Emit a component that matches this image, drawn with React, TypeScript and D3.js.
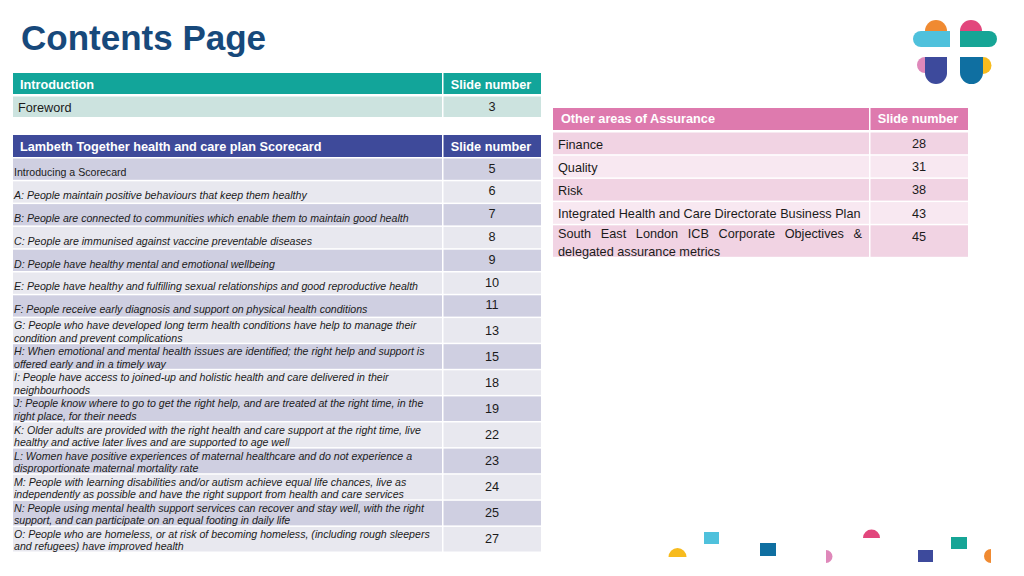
import React from "react";
import * as d3 from "d3";

// ---------- data ----------
const introItems = ["Foreword"];
const introSlides = [3];

const scorecardItems = [
  "Introducing a Scorecard",
  "A: People maintain positive behaviours that keep them healthy",
  "B: People are connected to communities which enable them to maintain good health",
  "C: People are immunised against vaccine preventable diseases",
  "D: People have healthy mental and emotional wellbeing",
  "E: People have healthy and fulfilling sexual relationships and good reproductive health",
  "F: People receive early diagnosis and support on physical health conditions",
  "G: People who have developed long term health conditions have help to manage their\ncondition and prevent complications",
  "H: When emotional and mental health issues are identified; the right help and support is\noffered early and in a timely way",
  "I: People have access to joined-up and holistic health and care delivered in their\nneighbourhoods",
  "J: People know where to go to get the right help, and are treated at the right time, in the\nright place, for their needs",
  "K: Older adults are provided with the right health and care support at the right time, live\nhealthy and active later lives and are supported to age well",
  "L: Women have positive experiences of maternal healthcare and do not experience a\ndisproportionate maternal mortality rate",
  "M: People with learning disabilities and/or autism achieve equal life chances, live as\nindependently as possible and have the right support from health and care services",
  "N: People using mental health support services can recover and stay well, with the right\nsupport, and can participate on an equal footing in daily life",
  "O: People who are homeless, or at risk of becoming homeless, (including rough sleepers\nand refugees) have improved health",
];
const scorecardSlides = [5, 6, 7, 8, 9, 10, 11, 13, 15, 18, 19, 22, 23, 24, 25, 27];

const assuranceItems = [
  "Finance",
  "Quality",
  "Risk",
  "Integrated Health and Care Directorate Business Plan",
  "South East London ICB Corporate Objectives &\ndelegated assurance metrics",
];
const assuranceSlides = [28, 31, 38, 43, 45];

// ---------- style ----------
const FONT = "'Liberation Sans', Arial, sans-serif";
const C = {
  title: "#17497b",
  teal: "#12a59a",
  tealRow: "#cce3df",
  indigo: "#3e4a9a",
  indigoDark: "#cfcfe1",
  indigoLight: "#e8e8ef",
  pink: "#de7aae",
  pinkDark: "#f1d3e3",
  pinkLight: "#f8e8f1",
  text: "#1b1b1b",
};
const FS = 12.7;
const FS_SMALL = 10.6;

function rowLayout(items: string[], top: number, single: number, double: number) {
  const heights = items.map((t) => (t.includes("\n") ? double : single));
  const ends = Array.from(d3.cumsum(heights));
  const y = d3.scaleLinear().domain([0, 1]).range([top, top + 1]);
  return items.map((t, i) => ({
    text: t,
    lines: t.split("\n"),
    y0: y(i === 0 ? 0 : ends[i - 1]),
    h: heights[i],
  }));
}

function JustifiedText(props: { x: number; y: number; width: number; text: string; fontSize: number; fill: string }) {
  const ref = React.useRef<SVGTextElement>(null);
  const [ws, setWs] = React.useState(0);
  React.useLayoutEffect(() => {
    if (!ref.current) return;
    const gaps = props.text.split(" ").length - 1;
    const len = ref.current.getComputedTextLength();
    if (gaps > 0 && ws === 0) setWs((props.width - len) / gaps);
  }, []);
  return (
    <text
      ref={ref}
      x={props.x}
      y={props.y}
      fontSize={props.fontSize}
      fill={props.fill}
      style={{ wordSpacing: ws + "px" }}
    >
      {props.text}
    </text>
  );
}

export default function App() {
  const W = 1024,
    H = 576;

  const introX = d3.scaleLinear().domain([0, 1]).range([13, 541]);
  const colSplit = 442;
  const introRows = rowLayout(introItems, 96.5, 22, 22);
  const scoreRows = rowLayout(scorecardItems, 158.5, 22.8, 26.1);

  const aLeft = 553,
    aRight = 968,
    aSplit = 869;
  const assRows = rowLayout(assuranceItems, 132.5, 23.2, 33);

  return (
    <svg
      width={W}
      height={H}
      style={{ position: "absolute", left: 0, top: 0, background: "#fff" }}
      fontFamily={FONT}
    >
      <rect width={W} height={H} fill="#fff" />
      <text x={21} y={50} fontSize={35} fontWeight="bold" fill={C.title}>
        Contents Page
      </text>

      {/* Intro table */}
      <rect x={introX(0)} y={73} width={colSplit - introX(0)} height={21} fill={C.teal} />
      <rect x={colSplit + 1.5} y={73} width={introX(1) - colSplit - 1.5} height={21} fill={C.teal} />
      <text x={20} y={88.5} fontSize={FS} fontWeight="bold" fill="#fff">Introduction</text>
      <text x={491} y={88.5} fontSize={FS} fontWeight="bold" fill="#fff" textAnchor="middle">Slide number</text>
      {introRows.map((r, i) => (
        <g key={"in" + i}>
          <rect x={13} y={r.y0} width={colSplit - 13} height={r.h - 1.5} fill={C.tealRow} />
          <rect x={colSplit + 1.5} y={r.y0} width={541 - colSplit - 1.5} height={r.h - 1.5} fill={C.tealRow} />
          <text x={18} y={r.y0 + 15} fontSize={FS} fill={C.text}>{r.text}</text>
          <text x={492} y={r.y0 + 14.5} fontSize={FS} fill={C.text} textAnchor="middle">{introSlides[i]}</text>
        </g>
      ))}

      {/* Scorecard table */}
      <rect x={13} y={135} width={colSplit - 13} height={22} fill={C.indigo} />
      <rect x={colSplit + 1.5} y={135} width={541 - colSplit - 1.5} height={22} fill={C.indigo} />
      <text x={20} y={150.5} fontSize={FS} fontWeight="bold" fill="#fff">Lambeth Together health and care plan Scorecard</text>
      <text x={491} y={150.5} fontSize={FS} fontWeight="bold" fill="#fff" textAnchor="middle">Slide number</text>
      {scoreRows.map((r, i) => {
        const fill = i % 2 === 0 ? C.indigoDark : C.indigoLight;
        const bottom = r.y0 + r.h - 1.5;
        const italic = i > 0;
        return (
          <g key={"sc" + i}>
            <rect x={13} y={r.y0} width={colSplit - 13} height={r.h - 1.5} fill={fill} />
            <rect x={colSplit + 1.5} y={r.y0} width={541 - colSplit - 1.5} height={r.h - 1.5} fill={fill} />
            {r.lines.length === 1 ? (
              <text x={14} y={bottom - 3.5} fontSize={FS_SMALL} fontStyle={italic ? "italic" : "normal"} fill={C.text}>
                {r.lines[0]}
              </text>
            ) : (
              r.lines.map((l, j) => (
                <text key={j} x={14} y={r.y0 + 11 + j * 12.4} fontSize={FS_SMALL} fontStyle="italic" fill={C.text}>
                  {l}
                </text>
              ))
            )}
            <text
              x={492}
              y={r.lines.length === 1 ? r.y0 + 14 : r.y0 + 16.5}
              fontSize={FS}
              fill={C.text}
              textAnchor="middle"
            >
              {scorecardSlides[i]}
            </text>
          </g>
        );
      })}

      {/* Assurance table */}
      <rect x={aLeft} y={108} width={aSplit - aLeft} height={22} fill={C.pink} />
      <rect x={aSplit + 1.5} y={108} width={aRight - aSplit - 1.5} height={22} fill={C.pink} />
      <text x={561} y={123} fontSize={FS} fontWeight="bold" fill="#fff">Other areas of Assurance</text>
      <text x={918} y={123} fontSize={FS} fontWeight="bold" fill="#fff" textAnchor="middle">Slide number</text>
      {assRows.map((r, i) => {
        const fill = i % 2 === 0 ? C.pinkDark : C.pinkLight;
        const multi = r.lines.length > 1;
        return (
          <g key={"as" + i}>
            <rect x={aLeft} y={r.y0} width={aSplit - aLeft} height={r.h - 1.5} fill={fill} />
            <rect x={aSplit + 1.5} y={r.y0} width={aRight - aSplit - 1.5} height={r.h - 1.5} fill={fill} />
            {r.lines.map((l, j) =>
              multi && j === 0 ? (
                <JustifiedText key={j} x={558} y={r.y0 + 13} width={304} text={l} fontSize={FS} fill={C.text} />
              ) : (
                <text key={j} x={558} y={r.y0 + (multi ? 13 : 16) + j * 18} fontSize={FS} fill={C.text}>
                  {l}
                </text>
              )
            )}
            <text x={919} y={r.y0 + (multi ? 16 : 15.5)} fontSize={FS} fill={C.text} textAnchor="middle">
              {assuranceSlides[i]}
            </text>
          </g>
        );
      })}

      {/* Logo */}
      <g>
        <path d="M925,31 A11,11 0 0 1 947,31 Z" fill="#f08a31" />
        <path d="M950,31 H921 A8,8 0 0 0 921,47 H950 Z" fill="#4fc1dc" />
        <path d="M960,31 A11,11 0 0 1 982,31 Z" fill="#e2467c" />
        <path d="M960,31 H989 A8,8 0 0 1 989,47 H960 Z" fill="#16a596" />
        <path d="M925,57 A8,8 0 0 0 925,73 Z" fill="#df88ba" />
        <path d="M925,57 H947 V73 A11,11 0 0 1 925,73 Z" fill="#3d4a9c" />
        <path d="M983,57 A8.5,8.5 0 0 1 983,74 Z" fill="#f7bb1e" />
        <path d="M960,57 H983 V72.5 A11.5,11.5 0 0 1 960,72.5 Z" fill="#0f6fa1" />
      </g>

      {/* Decorative shapes */}
      <g>
        <path d="M668.5,557 A9,9 0 0 1 686.5,557 Z" fill="#f7bb1e" />
        <rect x={704} y={532} width={15} height={12} fill="#4fc1dc" />
        <rect x={760} y={543} width={16} height={13} fill="#0f6fa1" />
        <path d="M826,550 A6.5,6.5 0 0 1 826,563 Z" fill="#df88ba" />
        <path d="M863,538 A8.5,8.5 0 0 1 880,538 Z" fill="#e2467c" />
        <rect x={918} y={550} width={15} height={12} fill="#3d4a9c" />
        <rect x={951} y={537} width={16} height={12} fill="#16a596" />
        <path d="M991,549 A7,7 0 0 0 991,563 Z" fill="#f08a31" />
      </g>
    </svg>
  );
}
